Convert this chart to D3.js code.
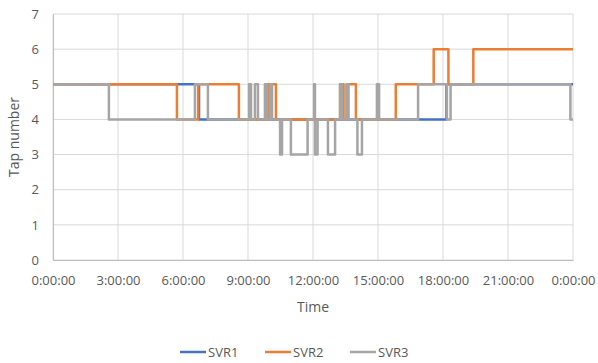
<!DOCTYPE html>
<html>
<head>
<meta charset="utf-8">
<script src="https://cdn.jsdelivr.net/npm/d3@7"></script>
<style>
  html, body { margin: 0; padding: 0; background: #fff; }
  svg { display: block; font-family: "Open Sans", "Noto Sans", sans-serif; }
</style>
</head>
<body>
<svg id="chart" width="598" height="363"></svg>
<script>
// Tap position change points: [hour of day, tap number]; each value holds until the next point.
const svr1 = [[0, 5], [6.74, 4], [18.16, 5], [24, 5]];
const svr2 = [[0, 5], [5.72, 4], [6.7, 5], [8.58, 4], [9.92, 5], [10.29, 4],
              [13.25, 5], [13.41, 4], [13.55, 5], [13.98, 4], [15.82, 5],
              [17.57, 6], [18.25, 5], [19.4, 6], [24, 6]];
const svr3 = [[0, 5], [2.58, 4], [6.55, 5], [7.15, 4], [9.05, 5], [9.14, 4],
              [9.32, 5], [9.46, 4], [9.78, 5], [9.88, 4], [10.02, 5], [10.11, 4],
              [10.48, 3], [10.57, 4], [10.98, 3], [11.75, 4], [12.05, 5], [12.09, 3],
              [12.21, 4], [12.69, 3], [13.02, 4], [13.25, 5], [13.34, 4], [13.55, 5],
              [13.64, 4], [14.05, 3], [14.26, 4], [14.95, 5], [15.05, 4], [16.85, 5],
              [18.18, 4], [18.35, 5], [23.88, 4], [24, 4]];

const seriesNames = ["SVR1", "SVR2", "SVR3"];
const seriesData = [svr1, svr2, svr3];
const seriesColors = ["#4472C4", "#ED7D31", "#A5A5A5"];

const xTickHours = [0, 3, 6, 9, 12, 15, 18, 21, 24];
const xTickLabels = ["0:00:00", "3:00:00", "6:00:00", "9:00:00", "12:00:00",
                     "15:00:00", "18:00:00", "21:00:00", "0:00:00"];
const yTicks = [0, 1, 2, 3, 4, 5, 6, 7];

const svg = d3.select("#chart");
const margin = { left: 53, right: 25, top: 14, bottom: 103 };
const W = 598, H = 363;
const x = d3.scaleLinear().domain([0, 24]).range([margin.left, W - margin.right]);
const y = d3.scaleLinear().domain([0, 7]).range([H - margin.bottom, margin.top]);

const gridColor = "#d9d9d9";
const textColor = "#595959";

// Horizontal gridlines
svg.append("g")
  .selectAll("line").data(yTicks).join("line")
  .attr("x1", x(0)).attr("x2", x(24))
  .attr("y1", d => y(d)).attr("y2", d => y(d))
  .attr("stroke", gridColor).attr("stroke-width", 1);

// Vertical gridlines
svg.append("g")
  .selectAll("line").data(xTickHours).join("line")
  .attr("x1", d => x(d)).attr("x2", d => x(d))
  .attr("y1", y(0)).attr("y2", y(7))
  .attr("stroke", gridColor).attr("stroke-width", 1);

// Axes
const xAxis = d3.axisBottom(x).tickValues(xTickHours)
  .tickFormat((d, i) => xTickLabels[i]).tickSize(0).tickPadding(16);
const gx = svg.append("g").attr("transform", `translate(0,${y(0)})`).call(xAxis);
gx.select(".domain").attr("stroke", "#bfbfbf");
gx.selectAll("text").attr("fill", textColor).attr("font-size", 13)
  .attr("font-family", "'Open Sans', sans-serif");

const yAxis = d3.axisLeft(y).tickValues(yTicks).tickFormat(d3.format("d"))
  .tickSize(0).tickPadding(14);
const gy = svg.append("g").attr("transform", `translate(${x(0)},0)`).call(yAxis);
gy.select(".domain").attr("stroke", "#bfbfbf");
gy.selectAll("text").attr("fill", textColor).attr("font-size", 13)
  .attr("font-family", "'Open Sans', sans-serif");

// Step lines
const line = d3.line()
  .x(d => x(d[0])).y(d => y(d[1]))
  .curve(d3.curveStepAfter);

svg.append("g")
  .selectAll("path").data(seriesData).join("path")
  .attr("d", line)
  .attr("fill", "none")
  .attr("stroke", (d, i) => seriesColors[i])
  .attr("stroke-width", 2.5)
  .attr("stroke-linejoin", "round");

// Axis titles
svg.append("text")
  .attr("x", (x(0) + x(24)) / 2).attr("y", 312)
  .attr("text-anchor", "middle").attr("fill", textColor)
  .attr("font-size", 14).text("Time");

svg.append("text")
  .attr("transform", `translate(19,${(y(0) + y(7)) / 2}) rotate(-90)`)
  .attr("text-anchor", "middle").attr("fill", textColor)
  .attr("font-size", 14).text("Tap number");

// Legend
const legendX = [180, 265, 350];
const legend = svg.append("g")
  .selectAll("g").data(seriesNames).join("g")
  .attr("transform", (d, i) => `translate(${legendX[i]},352)`);
legend.append("line")
  .attr("x1", 0).attr("x2", 26).attr("y1", 0).attr("y2", 0)
  .attr("stroke", (d, i) => seriesColors[i]).attr("stroke-width", 2.5);
legend.append("text")
  .attr("x", 28).attr("y", 4.5)
  .attr("fill", textColor).attr("font-size", 13)
  .text(d => d);
</script>
</body>
</html>
